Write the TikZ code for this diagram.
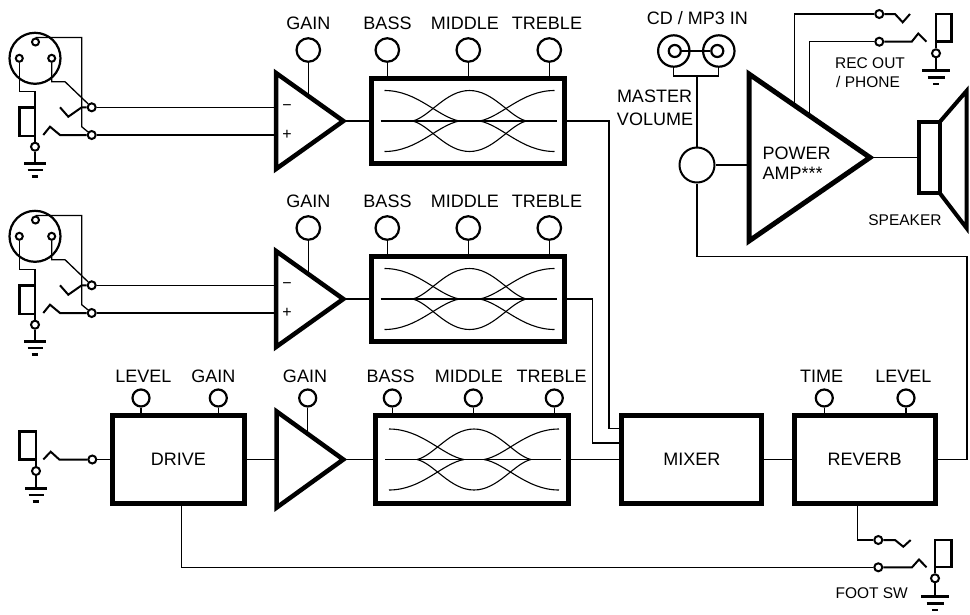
\documentclass[tikz,border=0pt]{standalone}
\usepackage{fontspec}
\setmainfont{Liberation Sans}
\begin{document}
\begin{tikzpicture}[x=1pt,y=-1pt,
  wire/.style={line width=1.3pt},
  sw/.style={line width=2pt, line join=miter},
  blk/.style={draw, rectangle, line width=5pt, inner sep=0pt, font=\fontsize{18}{21}\selectfont},
  tri/.style={draw, line width=4.5pt, line join=miter},
  kbig/.style={draw, circle, line width=2.2pt, minimum size=23.5pt, inner sep=0pt},
  ksmall/.style={draw, circle, line width=2.2pt, minimum size=17pt, inner sep=0pt},
  term/.style={draw, circle, line width=2pt, minimum size=8pt, inner sep=0pt, fill=white},
  xpin/.style={draw, circle, line width=2pt, minimum size=7pt, inner sep=0pt},
  lbl/.style={inner sep=0pt, font=\fontsize{18}{21}\selectfont},
  slbl/.style={inner sep=0pt, font=\fontsize{15.5}{18}\selectfont},
  sgn/.style={inner sep=0pt, font=\fontsize{16}{16}\selectfont},
  jackr/.style={draw, line width=2.5pt},
  gnd/.style={line width=2.5pt},
  crv/.style={line width=1.1pt},
  gndL/.pic={\draw[gnd] (-11,0) -- (11,0) (-7.5,6.7) -- (7.5,6.7) (-3.3,13.4) -- (3.3,13.4);},
  gndR/.pic={\draw[gnd] (-14,0) -- (14,0) (-8.5,6.7) -- (8.5,6.7) (-2.8,13.4) -- (2.8,13.4);},
  eqc/.pic={
    \draw[crv] (-87,0) -- (89,0);
    \foreach \s in {1,-1}{
      \draw[crv] (-83,-30.5*\s) .. controls (-50,-30.5*\s) and (-30,-4*\s) .. (-8,0);
      \draw[crv] (-55,0) .. controls (-38,-4*\s) and (-22,-30.5*\s) .. (2,-30.5*\s)
                         .. controls (26,-30.5*\s) and (42,-4*\s) .. (59,0);
      \draw[crv] (12,0) .. controls (34,-4*\s) and (54,-30.5*\s) .. (87,-30.5*\s);
    }
  }]
\useasboundingbox (0,0) rectangle (970,614);

% ---------- rows 1 and 2 (mic / line inputs) ----------
\foreach \r/\dy in {1/0,2/178}{
  % XLR connector
  \node[draw, circle, line width=2.2pt, minimum size=51pt, inner sep=0pt] (X\r) at (35,58.3+\dy) {};
  \node[xpin] (Xt\r) at (35.5,42+\dy) {};
  \node[xpin] (Xl\r) at (19.3,58.3+\dy) {};
  \node[xpin] (Xr\r) at (51.7,58.3+\dy) {};
  % terminals
  \node[term] (Tu\r) at (91.7,107.3+\dy) {};
  \node[term] (Tl\r) at (91.7,135+\dy) {};
  % jack
  \draw[jackr] (19.3,107.3+\dy) rectangle (35,136+\dy);
  \coordinate (Jc\r) at (35,136+\dy);
  \coordinate (Jt\r) at (35,107.3+\dy);
  \node[term] (Js\r) at (35,146.7+\dy) {};
  \coordinate (Gn\r) at (35,163.3+\dy);
  \draw[wire] (Jc\r) -- (Js\r.north);
  \draw[wire] (Js\r.south) -- (Gn\r);
  \pic at (Gn\r) {gndL};
  % XLR wiring
  \draw[wire] (Xt\r.north) -| (81.7,126.7+\dy) -- (Tl\r);
  \draw[wire] (Xr\r.south) |- (65,81.7+\dy) -- (Tu\r);
  \draw[wire] (Xl\r.south) |- (35,91.7+\dy) -- (Jt\r);
  % switch contacts
  \draw[sw] (Tu\r.west) -- (81.7,107.3+\dy) -- (68.3,116.7+\dy) -- (60,107.3+\dy);
  \draw[sw] (Tl\r.west) -- (60,135+\dy) -- (50,126.7+\dy) -- (43.3,135+\dy);
  % amplifier
  \draw[tri] (276,73+\dy) -- (276,169+\dy) -- (343.3,121+\dy) -- cycle;
  \coordinate (Aiu\r) at (276,107.3+\dy);
  \coordinate (Ail\r) at (276,135+\dy);
  \coordinate (Ao\r) at (343.3,121+\dy);
  \coordinate (Ag\r) at (308.3,96+\dy);
  \node[sgn] (Mi\r) at (287,107.3+\dy) {−};
  \node[sgn] (Pl\r) at (287,135+\dy) {+};
  \draw[wire] (Tu\r) -- (Aiu\r);
  \draw[wire] (Tl\r) -- (Ail\r);
  \node[kbig] (G\r) at (308.3,50+\dy) {};
  \node[lbl] (Gl\r) at (308.3,23+\dy) {GAIN};
  \draw[wire] (G\r) -- (Ag\r);
  % EQ
  \node[blk, minimum width=193pt, minimum height=85pt] (E\r) at (467.5,121+\dy) {};
  \pic at (E\r.center) {eqc};
  \draw[wire] (Ao\r) -- (E\r.west);
  \node[kbig] (Kb\r) at (387.3,50+\dy) {};
  \node[kbig] (Km\r) at (468.3,50+\dy) {};
  \node[kbig] (Kt\r) at (549.3,50+\dy) {};
  \foreach \k in {Kb,Km,Kt}{ \draw[wire] (\k\r) -- (\k\r |- E\r.north); }
  \node[lbl] (Lb\r) at (387.5,23+\dy) {BASS};
  \node[lbl] (Lm\r) at (465,23+\dy) {MIDDLE};
  \node[lbl] (Lt\r) at (547,23+\dy) {TREBLE};
}

% ---------- row 3 (instrument input) ----------
\draw[jackr] (19.3,431.7) rectangle (36,459.5);
\coordinate (Jc3) at (36,459.5);
\node[term] (Js3) at (36,471) {};
\coordinate (Gn3) at (36,488.3);
\draw[wire] (Jc3) -- (Js3.north);
\draw[wire] (Js3.south) -- (Gn3);
\pic at (Gn3) {gndL};
\node[term] (T3) at (92.3,459.5) {};
\draw[sw] (T3.west) -- (59.3,459.5) -- (50.7,451.7) -- (43.3,459.5);

\node[blk, minimum width=131.7pt, minimum height=88pt] (DR) at (178.3,459.5) {DRIVE};
\draw[wire] (T3) -- (DR.west);
\node[ksmall] (DL) at (141,398) {};
\node[ksmall] (DG) at (218.3,398) {};
\draw[wire] (DL) -- (DL |- DR.north);
\draw[wire] (DG) -- (DG |- DR.north);
\node[lbl] (DLl) at (143.3,376) {LEVEL};
\node[lbl] (DGl) at (213.3,376) {GAIN};

\draw[tri] (276.7,411.5) -- (276.7,507.5) -- (343.3,459.5) -- cycle;
\coordinate (Ai3) at (276.7,459.5);
\coordinate (Ao3) at (343.3,459.5);
\coordinate (Ag3) at (307.7,434);
\draw[wire] (DR.east) -- (Ai3);
\node[ksmall] (G3) at (307.7,398) {};
\draw[wire] (G3) -- (Ag3);
\node[lbl] (Gl3) at (305,376) {GAIN};

\node[blk, minimum width=192.4pt, minimum height=88pt] (E3) at (472,459.5) {};
\pic at (E3.center) {eqc};
\draw[wire] (Ao3) -- (E3.west);
\node[ksmall] (Kb3) at (392.3,398) {};
\node[ksmall] (Km3) at (473.3,398) {};
\node[ksmall] (Kt3) at (554.3,398) {};
\foreach \k in {Kb3,Km3,Kt3}{ \draw[wire] (\k) -- (\k |- E3.north); }
\node[lbl] (Lb3) at (390.7,376) {BASS};
\node[lbl] (Lm3) at (469,376) {MIDDLE};
\node[lbl] (Lt3) at (551.7,376) {TREBLE};

\node[blk, minimum width=140pt, minimum height=88pt] (MX) at (691.8,459.5) {MIXER};
\node[blk, minimum width=141pt, minimum height=88pt] (RV) at (864.7,459.5) {REVERB};
\draw[wire] (E3.east) -- (MX.west);
\draw[wire] (MX.east) -- (RV.west);
\node[ksmall] (RT) at (824.3,398) {};
\node[ksmall] (RL) at (906,398) {};
\draw[wire] (RT) -- (RT |- RV.north);
\draw[wire] (RL) -- (RL |- RV.north);
\node[lbl] (RTl) at (821.7,376) {TIME};
\node[lbl] (RLl) at (903.3,376) {LEVEL};

% mixer inputs from rows 1 and 2
\coordinate (m1) at (609,428.5);
\coordinate (m2) at (592.7,443);
\draw[wire] (E1.east) -| (m1) -- (m1 -| MX.west);
\draw[wire] (E2.east) -| (m2) -- (m2 -| MX.west);

% ---------- power section ----------
\node[lbl] (CDl) at (697.3,18.3) {CD / MP3 IN};
\node[draw, circle, line width=2.2pt, minimum size=31.4pt, inner sep=0pt] (R1) at (673.8,51) {};
\node[draw, circle, line width=2.2pt, minimum size=31.4pt, inner sep=0pt] (R2) at (718.8,51) {};
\node[draw, circle, line width=2.2pt, minimum size=12pt, inner sep=0pt] (R1i) at (674.8,51) {};
\node[draw, circle, line width=2.2pt, minimum size=12pt, inner sep=0pt] (R2i) at (717.3,51) {};
\draw[line width=2.2pt] (R1i.east) -- (R2i.west);
\node[draw, circle, line width=2pt, minimum size=35pt, inner sep=0pt] (MV) at (697,165) {};
\coordinate (br) at (697,76);
\draw[wire] (R1.south) |- (br) -| (R2.south);
\draw[wire] (br) -- (MV.north);
\node[lbl] (MVl1) at (654.5,96.7) {MASTER};
\node[lbl] (MVl2) at (655,119.3) {VOLUME};

\draw[tri, line width=5pt] (749,74) -- (749,241) -- (870,157.5) -- cycle;
\coordinate (PAi) at (749,165);
\coordinate (PAo) at (870,157.5);
\draw[wire] (MV.east) -- (PAi);
\node[lbl, anchor=west] (PAl1) at (762.3,153.3) {POWER};
\node[lbl, anchor=west] (PAl2) at (762.3,173.3) {AMP***};

% speaker
\node[draw, rectangle, line width=4pt, inner sep=0pt, minimum width=21pt, minimum height=71pt] (SP) at (929.2,157.5) {};
\draw[line width=4pt, line join=miter] (939.7,122) -- (966.5,91) -- (966.5,228) -- (939.7,193);
\draw[wire] (PAo) -- (SP.west);
\node[slbl] (SPl) at (905,220) {SPEAKER};

% reverb return to master volume
\coordinate (r1) at (967,256.7);
\draw[wire] (RV.east) -| (r1) -| (MV.south);

% REC OUT / PHONE
\node[term] (RU) at (879.3,14) {};
\node[term] (RLo) at (879.3,41.7) {};
\draw[wire] (794.3,105) |- (RU);
\draw[wire] (809.3,115.4) |- (RLo);
\draw[sw] (RU.east) -- (895,14) -- (902.7,22.3) -- (910,14);
\draw[sw] (RLo.east) -- (911.7,41.7) -- (918.3,33.5) -- (926.5,41.7);
\draw[jackr] (936,14) rectangle (951.7,41.7);
\node[term] (RJs) at (936,53.3) {};
\coordinate (RG) at (936,70.7);
\draw[wire] (936,41.7) -- (RJs.north);
\draw[wire] (RJs.south) -- (RG);
\pic at (RG) {gndR};
\node[slbl, anchor=west] (REl1) at (835,63.3) {REC OUT};
\node[slbl, anchor=west] (REl2) at (836,81.7) {/ PHONE};

% FOOT SW
\node[term] (FU) at (878.3,540) {};
\node[term] (FL) at (878.3,567.3) {};
\coordinate (d1) at (181.7,567.3);
\coordinate (v1) at (857.3,540);
\draw[wire] (d1 |- DR.south) -- (d1) -- (FL);
\draw[wire] (v1 |- RV.south) -- (v1) -- (FU);
\draw[sw] (FU.east) -- (895,540) -- (903.3,546.7) -- (910.7,540);
\draw[sw] (FL.east) -- (912,567.3) -- (919,559.5) -- (926.5,567.3);
\draw[jackr] (935,540) rectangle (951.7,567);
\node[term] (FJs) at (935,578.3) {};
\coordinate (FG) at (935,596.7);
\draw[wire] (935,567) -- (FJs.north);
\draw[wire] (FJs.south) -- (FG);
\pic at (FG) {gndR};
\node[slbl] (FSl) at (871.7,593.3) {FOOT SW};
\end{tikzpicture}
\end{document}
